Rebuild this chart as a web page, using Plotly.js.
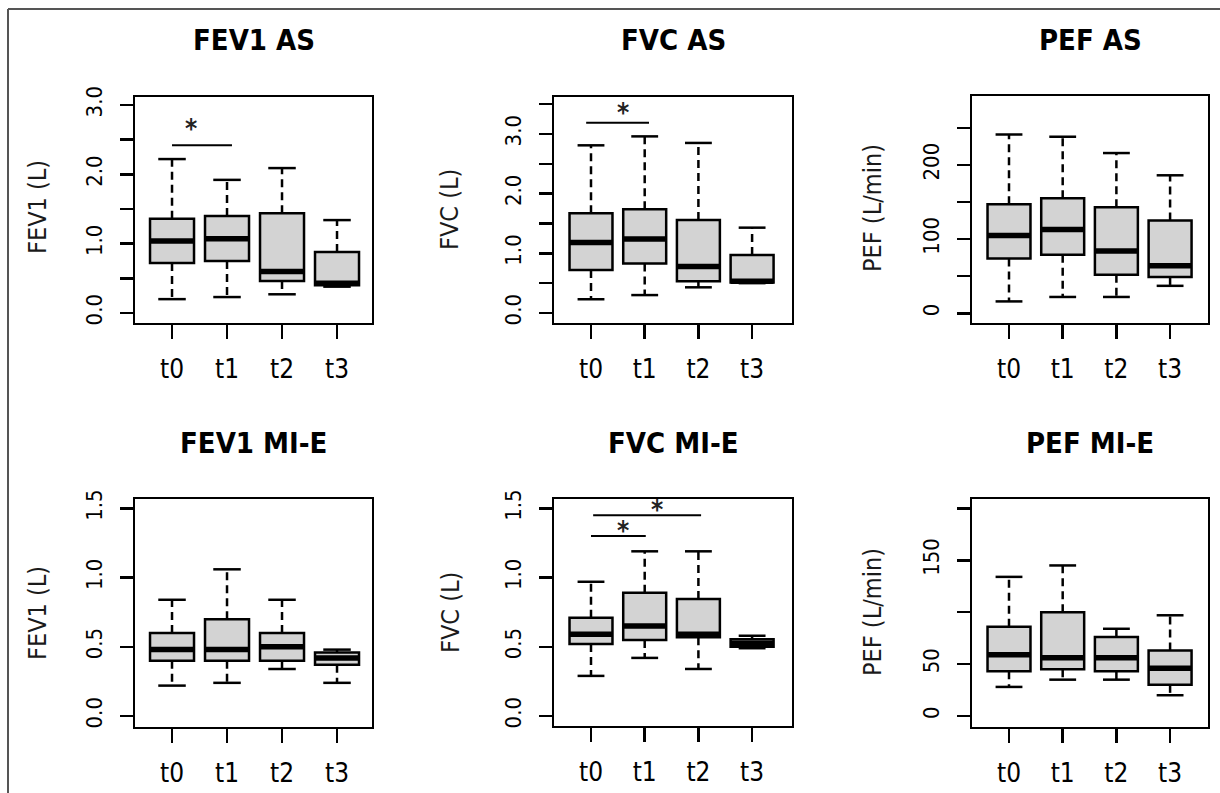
<!DOCTYPE html>
<html>
<head>
<meta charset="utf-8">
<script src="https://cdn.plot.ly/plotly-3.0.1.min.js"></script>
<style>html,body{margin:0;padding:0;background:#fff;}#chart{width:1220px;height:793px;}</style>
</head>
<body>
<div id="chart"></div>
<script>
// ---------- DATA ----------
const categories = ['t0', 't1', 't2', 't3'];

// FEV1 AS (L)
const fev1AS_upper  = [2.22, 1.92, 2.09, 1.34];
const fev1AS_q3     = [1.36, 1.40, 1.44, 0.88];
const fev1AS_median = [1.04, 1.07, 0.60, 0.43];
const fev1AS_q1     = [0.72, 0.75, 0.46, 0.40];
const fev1AS_lower  = [0.20, 0.23, 0.27, 0.38];

// FVC AS (L)
const fvcAS_upper  = [2.81, 2.96, 2.85, 1.43];
const fvcAS_q3     = [1.67, 1.74, 1.56, 0.97];
const fvcAS_median = [1.18, 1.24, 0.78, 0.53];
const fvcAS_q1     = [0.72, 0.83, 0.53, 0.51];
const fvcAS_lower  = [0.23, 0.30, 0.43, 0.50];

// PEF AS (L/min)
const pefAS_upper  = [241, 238, 216, 186];
const pefAS_q3     = [147, 155, 143, 125];
const pefAS_median = [105, 113, 84, 64];
const pefAS_q1     = [74, 79, 52, 49];
const pefAS_lower  = [16, 22, 22, 37];

// FEV1 MI-E (L)
const fev1MIE_upper  = [0.84, 1.06, 0.84, 0.48];
const fev1MIE_q3     = [0.60, 0.70, 0.60, 0.46];
const fev1MIE_median = [0.48, 0.48, 0.50, 0.42];
const fev1MIE_q1     = [0.40, 0.40, 0.40, 0.37];
const fev1MIE_lower  = [0.22, 0.24, 0.34, 0.24];

// FVC MI-E (L)
const fvcMIE_upper  = [0.97, 1.19, 1.19, 0.58];
const fvcMIE_q3     = [0.71, 0.89, 0.845, 0.555];
const fvcMIE_median = [0.59, 0.65, 0.59, 0.525];
const fvcMIE_q1     = [0.52, 0.55, 0.57, 0.50];
const fvcMIE_lower  = [0.29, 0.42, 0.34, 0.49];

// PEF MI-E (L/min)
const pefMIE_upper  = [134, 145, 84, 97];
const pefMIE_q3     = [86, 100, 76, 63];
const pefMIE_median = [59, 56, 56, 46];
const pefMIE_q1     = [43, 45, 43, 30];
const pefMIE_lower  = [28, 35, 35, 20];

// significance bars: [from index, to index, bar level, star x, star level]
const fev1AS_sig  = [[0, 1.09, 2.42, 0.35, 2.74]];
const fvcAS_sig   = [[-0.09, 1.08, 3.19, 0.60, 3.46]];
const fvcMIE_sig  = [[0, 1.02, 1.30, 0.60, 1.38], [0.04, 2.05, 1.45, 1.23, 1.53]];

// y tick values and labels
const yt_fev1AS = [0, 0.5, 1, 1.5, 2, 2.5, 3];
const yl_fev1AS = ['0.0', '', '1.0', '', '2.0', '', '3.0'];
const yt_fvcAS  = [0, 0.5, 1, 1.5, 2, 2.5, 3, 3.5];
const yl_fvcAS  = ['0.0', '', '1.0', '', '2.0', '', '3.0', ''];
const yt_pefAS  = [0, 50, 100, 150, 200, 250];
const yl_pefAS  = ['0', '', '100', '', '200', ''];
const yt_mie    = [0, 0.5, 1, 1.5];
const yl_mie    = ['0.0', '0.5', '1.0', '1.5'];
const yt_pefMIE = [0, 50, 100, 150, 200];
const yl_pefMIE = ['0', '50', '', '150', ''];

// ---------- LAYOUT HELPERS ----------
const W = 1220, H = 793;
const px = v => v / W;
const py = v => 1 - v / H;
const FONT = '"Liberation Sans Narrow", "Arial Narrow", "DejaVu Sans Condensed", Arial, sans-serif';
const INK = '#000';

const panels = [
  {n: '', title: 'FEV1 AS', ytitle: 'FEV1 (L)', box: [135, 372, 97, 323], xr: [-0.673, 3.636], yr: [-0.144, 3.115],
   tv: yt_fev1AS, tl: yl_fev1AS, tY: 40, ytX: 37, ytY: 207,
   d: [fev1AS_lower, fev1AS_q1, fev1AS_median, fev1AS_q3, fev1AS_upper], sig: fev1AS_sig},
  {n: '2', title: 'FVC AS', ytitle: 'FVC (L)', box: [554, 792, 97, 323], xr: [-0.689, 3.743], yr: [-0.168, 3.62],
   tv: yt_fvcAS, tl: yl_fvcAS, tY: 40, ytX: 450, ytY: 210,
   d: [fvcAS_lower, fvcAS_q1, fvcAS_median, fvcAS_q3, fvcAS_upper], sig: fvcAS_sig},
  {n: '3', title: 'PEF AS', ytitle: 'PEF (L/min)', box: [972, 1208, 96, 323], xr: [-0.689, 3.706], yr: [-13.1, 292.9],
   tv: yt_pefAS, tl: yl_pefAS, tY: 40, ytX: 872, ytY: 208,
   d: [pefAS_lower, pefAS_q1, pefAS_median, pefAS_q3, pefAS_upper], sig: []},
  {n: '4', title: 'FEV1 MI-E', ytitle: 'FEV1 (L)', box: [135, 372, 499, 727], xr: [-0.673, 3.636], yr: [-0.079, 1.568],
   tv: yt_mie, tl: yl_mie, tY: 443, ytX: 37, ytY: 613,
   d: [fev1MIE_lower, fev1MIE_q1, fev1MIE_median, fev1MIE_q3, fev1MIE_upper], sig: []},
  {n: '5', title: 'FVC MI-E', ytitle: 'FVC (L)', box: [554, 792, 499, 726], xr: [-0.689, 3.743], yr: [-0.072, 1.568],
   tv: yt_mie, tl: yl_mie, tY: 443, ytX: 450, ytY: 613,
   d: [fvcMIE_lower, fvcMIE_q1, fvcMIE_median, fvcMIE_q3, fvcMIE_upper], sig: fvcMIE_sig},
  {n: '6', title: 'PEF MI-E', ytitle: 'PEF (L/min)', box: [972, 1208, 499, 727], xr: [-0.689, 3.706], yr: [-10.6, 209],
   tv: yt_pefMIE, tl: yl_pefMIE, tY: 443, ytX: 872, ytY: 612,
   d: [pefMIE_lower, pefMIE_q1, pefMIE_median, pefMIE_q3, pefMIE_upper], sig: []}
];

const traces = [];
const layout = {
  width: W, height: H,
  margin: {l: 0, r: 0, t: 0, b: 0},
  paper_bgcolor: '#fff', plot_bgcolor: '#fff',
  showlegend: false,
  font: {family: FONT, color: INK},
  annotations: [],
  shapes: [
    {type: 'line', xref: 'paper', yref: 'paper', x0: px(8), x1: 1, y0: py(9), y1: py(9), line: {color: '#555', width: 2}},
    {type: 'line', xref: 'paper', yref: 'paper', x0: px(8), x1: px(8), y0: py(9), y1: 0, line: {color: '#555', width: 2}}
  ]
};

const pos = categories.map((c, i) => i);
const BOXW = 0.8, CAPH = 0.25, MEDH = 0.4;

panels.forEach(p => {
  const xa = 'x' + p.n, ya = 'y' + p.n;
  const [lo, q1, med, q3, hi] = p.d;

  // dashed whiskers
  const wx = [], wy = [];
  pos.forEach(k => { wx.push(k, k, null, k, k, null); wy.push(q3[k], hi[k], null, q1[k], lo[k], null); });
  traces.push({type: 'scatter', mode: 'lines', x: wx, y: wy, xaxis: xa, yaxis: ya,
    line: {color: INK, width: 2.5, dash: '8px,5px'}, hoverinfo: 'skip'});
  // caps
  const cx = [], cy = [];
  pos.forEach(k => { cx.push(k - CAPH, k + CAPH, null, k - CAPH, k + CAPH, null); cy.push(hi[k], hi[k], null, lo[k], lo[k], null); });
  traces.push({type: 'scatter', mode: 'lines', x: cx, y: cy, xaxis: xa, yaxis: ya,
    line: {color: INK, width: 2.5}, hoverinfo: 'skip'});
  // boxes
  traces.push({type: 'box', x: pos, q1: q1, median: med, q3: q3, lowerfence: q1, upperfence: q3,
    xaxis: xa, yaxis: ya, width: BOXW, fillcolor: '#d3d3d3', line: {color: INK, width: 2.5},
    whiskerwidth: 0, boxpoints: false, hoverinfo: 'skip'});
  // thick medians
  const mx = [], my = [];
  pos.forEach(k => { mx.push(k - MEDH, k + MEDH, null); my.push(med[k], med[k], null); });
  traces.push({type: 'scatter', mode: 'lines', x: mx, y: my, xaxis: xa, yaxis: ya,
    line: {color: INK, width: 5.5}, hoverinfo: 'skip'});
  // significance bars
  p.sig.forEach(s => {
    traces.push({type: 'scatter', mode: 'lines', x: [s[0], s[1]], y: [s[2], s[2]], xaxis: xa, yaxis: ya,
      line: {color: INK, width: 2}, hoverinfo: 'skip', cliponaxis: false});
    layout.annotations.push({text: '*', xref: xa, yref: ya, x: s[3], y: s[4], yshift: -6,
      xanchor: 'center', yanchor: 'middle', showarrow: false,
      font: {family: FONT, size: 26, color: '#222', weight: 'bold'}});
  });

  const [l, r, t, b] = p.box;
  layout['xaxis' + p.n] = {
    domain: [px(l), px(r)], range: p.xr, anchor: ya, fixedrange: true,
    tickmode: 'array', tickvals: pos, ticktext: categories,
    ticks: 'outside', ticklen: 14, tickwidth: 2.5, tickcolor: INK,
    showline: true, mirror: true, linecolor: INK, linewidth: 2.2,
    showgrid: false, zeroline: false,
    tickfont: {family: FONT, size: 26, color: INK}, ticklabelstandoff: 8
  };
  layout['yaxis' + p.n] = {
    domain: [py(b), py(t)], range: p.yr, anchor: xa, fixedrange: true,
    tickmode: 'array', tickvals: p.tv, ticktext: p.tl, tickangle: -90,
    ticks: 'outside', ticklen: 13, tickwidth: 2.5, tickcolor: INK,
    showline: true, mirror: true, linecolor: INK, linewidth: 2.2,
    showgrid: false, zeroline: false,
    tickfont: {family: FONT, size: 22, color: INK}, ticklabelstandoff: 9
  };
  layout.annotations.push({
    text: p.title, xref: 'paper', yref: 'paper', x: px((l + r) / 2), y: py(p.tY),
    xanchor: 'center', yanchor: 'middle', showarrow: false,
    font: {family: FONT, size: 29, color: '#000', weight: 'bold'}
  });
  layout.annotations.push({
    text: p.ytitle, xref: 'paper', yref: 'paper', x: px(p.ytX), y: py(p.ytY), textangle: -90,
    xanchor: 'center', yanchor: 'middle', showarrow: false,
    font: {family: FONT, size: 25, color: '#1a1a1a'}
  });
});

Plotly.newPlot('chart', traces, layout, {staticPlot: true, displayModeBar: false});
</script>
</body>
</html>
